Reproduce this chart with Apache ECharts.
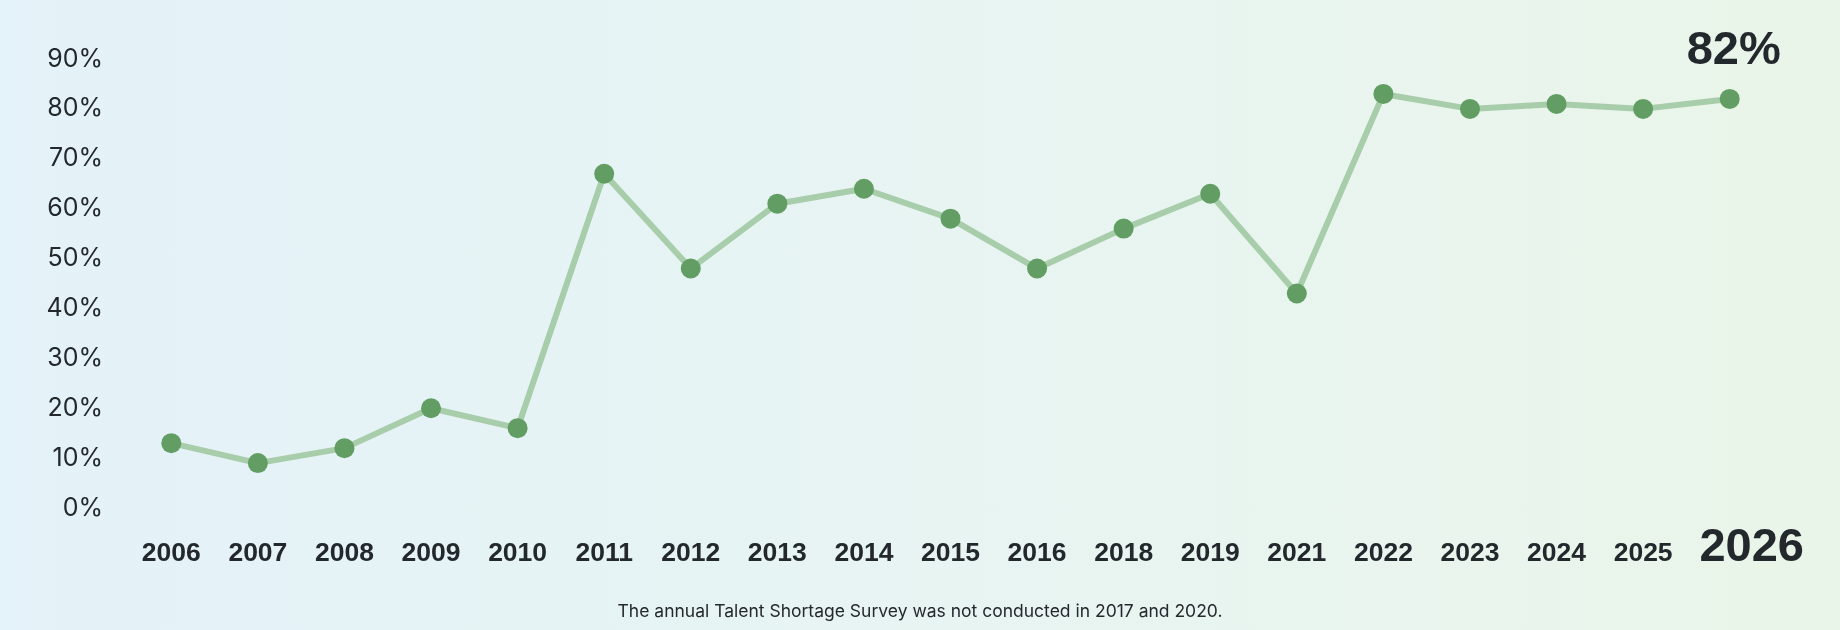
<!DOCTYPE html>
<html>
<head>
<meta charset="utf-8">
<script src="https://cdn.jsdelivr.net/npm/echarts@6/dist/echarts.min.js"></script>
<style>
html,body{margin:0;padding:0;width:1840px;height:630px;overflow:hidden;
background:linear-gradient(90deg,#e4f2f9 0%,#e7f4f2 50%,#eaf5e9 100%);}
#chart{width:1840px;height:630px;}
</style>
</head>
<body>
<div id="chart"></div>
<script>
const years = ['2006','2007','2008','2009','2010','2011','2012','2013','2014','2015','2016','2018','2019','2021','2022','2023','2024','2025','2026'];
const shortage = [13,9,12,20,16,67,48,61,64,58,48,56,63,43,83,80,81,80,82];
const yTicks = [0,10,20,30,40,50,60,70,80,90];
const note = 'The annual Talent Shortage Survey was not conducted in 2017 and 2020.';

const lastIdx = years.length - 1;
const chart = echarts.init(document.getElementById('chart'));
chart.setOption({
  backgroundColor: 'transparent',
  animation: false,
  title: {
    text: note, left: 'center', top: 598,
    textStyle: {fontFamily: 'Inter', fontSize: 17.5, fontWeight: 'normal', color: '#25292d'}
  },
  grid: {left: 128, right: 67, top: 59, bottom: 122},
  xAxis: {
    type: 'category', data: years, boundaryGap: true,
    axisLine: {show: false}, axisTick: {show: false}, splitLine: {show: false},
    axisLabel: {
      margin: 46, verticalAlign: 'middle', interval: 0,
      formatter: (v, i) => i === lastIdx ? '{big|' + v + '}' : '{n|' + v + '}',
      rich: {
        n: {fontFamily: 'Liberation Sans', fontWeight: 'bold', fontSize: 26.5, color: '#23282d'},
        big: {fontFamily: 'Liberation Sans', fontWeight: 'bold', fontSize: 47, color: '#23282d', padding: [0, 0, 12, 44]}
      }
    }
  },
  yAxis: {
    type: 'value', min: yTicks[0], max: yTicks[yTicks.length - 1], interval: 10,
    axisLine: {show: false}, axisTick: {show: false}, splitLine: {show: false},
    axisLabel: {
      margin: 25, formatter: '{value}%',
      fontFamily: 'Inter', fontSize: 25, color: '#23282d'
    }
  },
  series: [{
    type: 'line',
    data: shortage.map((v, i) => i === lastIdx ? {
      value: v,
      label: {show: true, position: 'top', distance: 14, formatter: '{c}%',
        fontFamily: 'Liberation Sans', fontWeight: 'bold', fontSize: 47, color: '#23282d', offset: [4, 0]}
    } : v),
    symbol: 'circle', symbolSize: 20,
    lineStyle: {width: 6, color: '#a8cdaa'},
    itemStyle: {color: '#629e63'},
    label: {show: false}
  }]
});
</script>
</body>
</html>
